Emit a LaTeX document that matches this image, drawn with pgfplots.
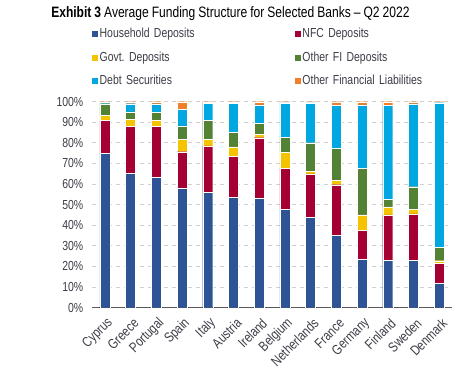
\documentclass[border=0pt]{standalone}
\usepackage{pgfplots}
\usepackage{pgfplotstable}
\pgfplotsset{compat=1.18}
\usepackage{fontspec}
\setmainfont{Liberation Sans}[FakeStretch=0.8, WordSpace=0.9]
\definecolor{cH}{HTML}{2F5496}
\definecolor{cN}{HTML}{A50034}
\definecolor{cG}{HTML}{F5C400}
\definecolor{cF}{HTML}{548235}
\definecolor{cD}{HTML}{00A7E1}
\definecolor{cO}{HTML}{F07F2A}
\definecolor{tick}{HTML}{3C3C46}
\pgfplotstableread{
x H N G F D O
0 75.0 15.8 2.6 5.6 0.7 0.3
1 65.2 22.7 3.4 3.8 3.9 1.0
2 63.3 24.6 2.9 3.9 4.2 1.1
3 58.1 17.6 6.0 6.6 8.1 3.6
4 56.0 22.5 3.2 9.1 8.4 0.8
5 53.7 19.9 4.4 7.0 14.2 0.8
6 53.1 29.4 1.6 5.3 9.0 1.6
7 47.7 19.8 7.9 7.4 16.6 0.6
8 43.9 21.1 1.2 13.9 19.3 0.6
9 35.1 24.6 2.1 15.4 21.0 1.8
10 23.5 13.9 7.7 22.5 30.8 1.6
11 23.1 22.0 3.8 3.7 45.5 1.9
12 23.0 22.5 2.1 11.1 40.2 1.1
13 11.8 9.6 1.4 6.5 70.2 0.5
}\datatable
\begin{document}
\begin{tikzpicture}
\useasboundingbox (0,0) rectangle (348pt,278.25pt);
\node[anchor=west, inner sep=0pt, font=\fontsize{11.3}{13}\selectfont] at (38.25pt,267.75pt) {\textbf{Exhibit 3} Average Funding Structure for Selected Banks -- Q2 2022};
\begin{axis}[
  at={(69pt,47.5pt)}, anchor=south west,
  scale only axis, width=270pt, height=154.5pt,
  ybar stacked, bar width=7.5pt,
  xmin=-0.5, xmax=13.5, ymin=0, ymax=100,
  xtick=data,
  xticklabels={Cyprus,Greece,Portugal,Spain,Italy,Austria,Ireland,Belgium,Netherlands,France,Germany,Finland,Sweden,Denmark},
  x tick label style={rotate=45, anchor=east, inner sep=0pt, xshift=-4pt, yshift=-10pt, font=\fontsize{10.5}{11}\selectfont, text=tick},
  ytick={0,10,...,100},
  yticklabel={\pgfmathprintnumber{\tick}\%},
  y tick label style={font=\fontsize{9.8}{11}\selectfont, text=tick, xshift=-3pt},
  /pgf/number format/assume math mode=true,
  axis x line*=bottom, axis y line*=left,
  y axis line style={draw=none},
  x axis line style={draw=black!65, line width=1.2pt},
  major tick length=0pt,
  ymajorgrids, grid style={dashed, draw=black!18, line width=0.6pt},
  legend columns=2,
  legend style={draw=none, at={(-0.015,1)}, anchor=south west, yshift=8pt,
    font=\fontsize{9.8}{11}\selectfont, text=tick,
    nodes={text width=144.5pt, align=left, inner sep=1pt}, row sep=7pt, column sep=0pt},
  legend cell align=left,
  legend image code/.code={\fill[#1] (0pt,-2.6pt) rectangle (5.4pt,2.6pt);},
]
\addplot[fill=cH, draw=white, line width=0.2pt] table[x=x,y=H]{\datatable};
\addplot[fill=cN, draw=white, line width=0.2pt] table[x=x,y=N]{\datatable};
\addplot[fill=cG, draw=white, line width=0.2pt] table[x=x,y=G]{\datatable};
\addplot[fill=cF, draw=white, line width=0.2pt] table[x=x,y=F]{\datatable};
\addplot[fill=cD, draw=white, line width=0.2pt] table[x=x,y=D]{\datatable};
\addplot[fill=cO, draw=white, line width=0.2pt] table[x=x,y=O]{\datatable};
\legend{Household Deposits, NFC Deposits, Govt.\ Deposits, Other FI Deposits, Debt Securities, Other Financial Liabilities}
\end{axis}
\end{tikzpicture}
\end{document}
